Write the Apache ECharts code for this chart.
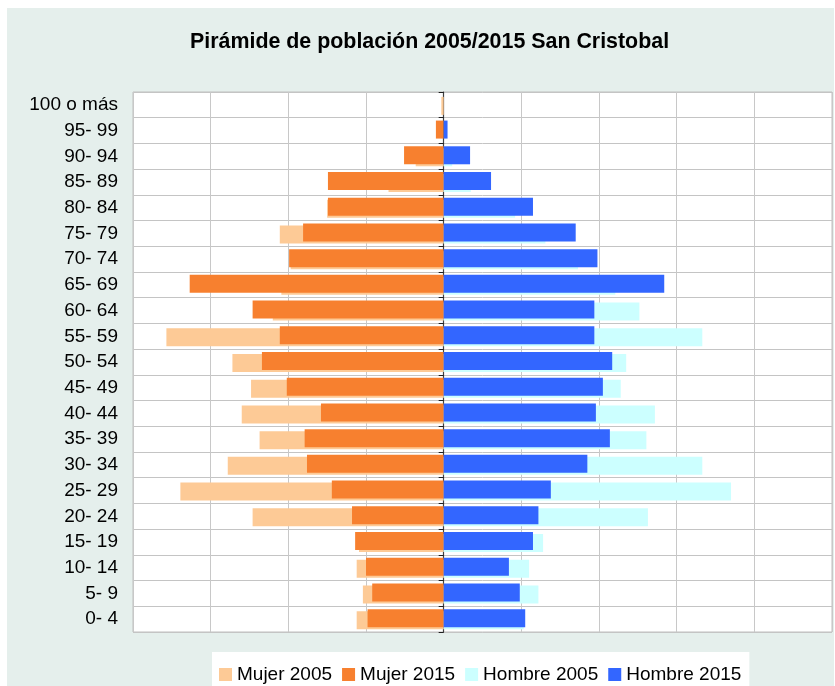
<!DOCTYPE html>
<html>
<head>
<meta charset="utf-8">
<script src="https://cdn.jsdelivr.net/npm/echarts@6/dist/echarts.min.js"></script>
<style>
html,body{margin:0;padding:0;background:#fff;}
#c{width:835px;height:686px;}
</style>
</head>
<body>
<div id="c"></div>
<script>
// categories bottom to top
var categories = ['0- 4','5- 9','10- 14','15- 19','20- 24','25- 29','30- 34','35- 39','40- 44','45- 49','50- 54','55- 59','60- 64','65- 69','70- 74','75- 79','80- 84','85- 89','90- 94','95- 99','100 o más'];
var mujer2005  = [112,104,112,109,246,339,278,237,260,248,272,357,220,209,197,211,150,71,36,0,3];
var mujer2015  = [98,92,100,114,118,144,176,179,158,202,234,211,246,327,199,181,149,149,51,10,0];
var hombre2005 = [103,122,110,128,263,370,333,261,272,228,235,333,252,221,173,131,92,35,11,0,0];
var hombre2015 = [105,98,84,115,122,138,185,214,196,205,217,194,194,284,198,170,115,61,34,5,0];
var xTicks = {min:-400, max:500, interval:100};

var FONT = "'Liberation Sans', Arial, sans-serif";
var neg = function(a){ return a.map(function(v){ return -v; }); };

var chart = echarts.init(document.getElementById('c'), null, {renderer:'canvas'});
var option = {
  animation:false,
  backgroundColor:'#ffffff',
  graphic:[{type:'rect', left:7, top:8, z:-100, silent:true,
            shape:{width:827, height:678}, style:{fill:'#E5EFEC'}}],
  title:{
    text:'Pirámide de población 2005/2015 San Cristobal',
    left:190, top:32, padding:0,
    textStyle:{fontFamily:FONT, fontSize:21.4, fontWeight:'bold', color:'#000'}
  },
  legend:{
    left:212, top:652, padding:[13,8,10,7], itemGap:10,
    itemWidth:13, itemHeight:13, icon:'rect',
    backgroundColor:'#ffffff',
    textStyle:{fontFamily:FONT, fontSize:19, color:'#000'},
    data:['Mujer 2005','Mujer 2015','Hombre 2005','Hombre 2015']
  },
  grid:{left:133, top:92, width:699, height:540, show:true,
        backgroundColor:'#ffffff', borderColor:'#bfbfbf', borderWidth:1, containLabel:false},
  xAxis:{type:'value', min:xTicks.min, max:xTicks.max, interval:xTicks.interval,
         axisLabel:{show:false}, axisLine:{show:false}, axisTick:{show:false},
         splitLine:{show:true, lineStyle:{color:'#c8c8c8', width:1}}},
  yAxis:[
    {type:'category', data:categories, position:'left',
     axisLine:{show:false, onZero:false}, axisTick:{show:false},
     axisLabel:{fontFamily:FONT, fontSize:19, color:'#000', margin:15},
     splitLine:{show:true, lineStyle:{color:'#c4c4c4', width:1}}},
    {type:'category', data:categories, position:'left',
     axisLine:{show:true, onZero:true, lineStyle:{color:'#404040', width:1.2}},
     axisTick:{show:true, length:5, lineStyle:{color:'#202020'}},
     axisLabel:{show:false}, splitLine:{show:false}}
  ],
  series:[
    {name:'Mujer 2015', type:'bar', stack:'s15', data:neg(mujer2015), barWidth:18, barGap:'-88.9%', z:3,
     itemStyle:{color:'#F7802F'}},
    {name:'Hombre 2015', type:'bar', stack:'s15', data:hombre2015, barWidth:18, barGap:'-88.9%', z:3,
     itemStyle:{color:'#3366FF'}},
    {name:'Mujer 2005', type:'bar', stack:'s05', data:neg(mujer2005), barWidth:18, barGap:'-88.9%', z:2,
     itemStyle:{color:'#FDCA96'}},
    {name:'Hombre 2005', type:'bar', stack:'s05', data:hombre2005, barWidth:18, barGap:'-88.9%', z:2,
     itemStyle:{color:'#CCFFFF'}}
  ]
};
chart.setOption(option);
</script>
</body>
</html>
